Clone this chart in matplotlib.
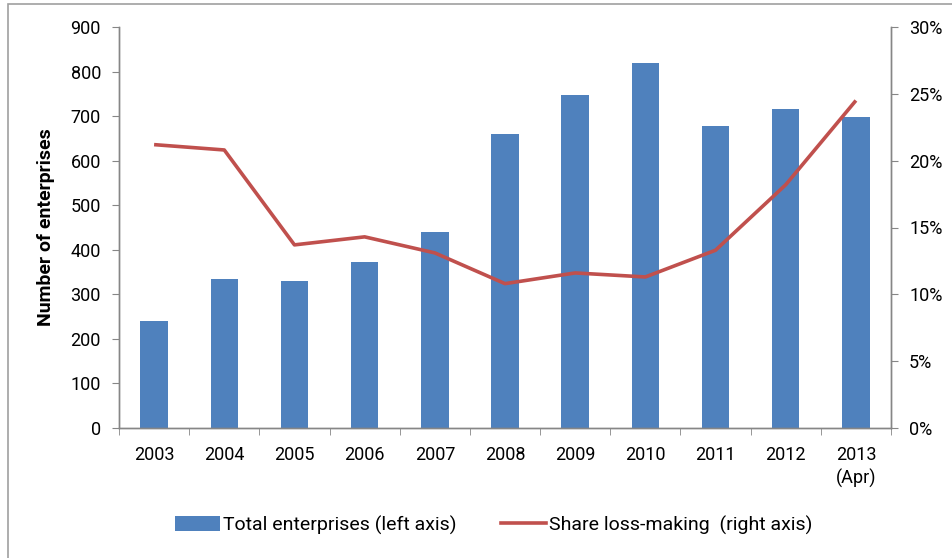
import matplotlib
matplotlib.use("Agg")
import matplotlib.pyplot as plt
from matplotlib.patches import Rectangle
from matplotlib.ticker import FuncFormatter, MultipleLocator
from matplotlib.lines import Line2D
from matplotlib.patches import Patch

plt.rcParams['font.family'] = ['Roboto', 'DejaVu Sans']

years = ["2003", "2004", "2005", "2006", "2007", "2008", "2009", "2010", "2011", "2012", "2013\n(Apr)"]
total_enterprises = [240, 334, 330, 373, 440, 660, 747, 820, 678, 716, 697]
share_loss_making = [21.2, 20.8, 13.7, 14.3, 13.1, 10.8, 11.6, 11.3, 13.3, 18.2, 24.5]

bar_color = "#4F81BD"
line_color = "#C0504D"
grey = "#868686"
fs = 13

fig = plt.figure(figsize=(9.53, 5.58), dpi=100)
ax = fig.add_axes([119/953, 1-428/558, (891-119)/953, (428-27)/558])
ax2 = ax.twinx()

x = list(range(len(years)))
ax.bar(x, total_enterprises, width=0.39, color=bar_color, zorder=2)
ax2.plot(x, share_loss_making, color=line_color, lw=2.6, solid_capstyle='butt', zorder=3)

ax.set_xlim(-0.5, len(years)-0.5)
ax.set_ylim(0, 900)
ax.yaxis.set_major_locator(MultipleLocator(100))
ax2.set_ylim(0, 30)
ax2.yaxis.set_major_locator(MultipleLocator(5))
ax2.yaxis.set_major_formatter(FuncFormatter(lambda v, p: f"{v:.0f}%"))

ax.set_xticks(x)
ax.set_xticklabels(years, linespacing=1.3)
ax.set_xticks([i - 0.5 for i in range(len(years)+1)], minor=True)
ax.tick_params(axis='x', which='major', length=0, pad=13, labelsize=fs)
ax.tick_params(axis='x', which='minor', length=5, color=grey, direction='out')
ax.tick_params(axis='y', length=5, color=grey, direction='out', labelsize=fs, pad=8)
ax2.tick_params(axis='y', length=5, color=grey, direction='out', labelsize=fs, pad=8)

for a in (ax, ax2):
    a.spines['top'].set_visible(False)
    for s in ('left', 'right', 'bottom'):
        a.spines[s].set_color(grey)
        a.spines[s].set_linewidth(1.0)

ax.set_ylabel("Number of enterprises", fontsize=14, fontweight='bold')
ax.yaxis.set_label_coords(-64/772, 0.5)

handles = [Patch(facecolor=bar_color, edgecolor='none'),
           Line2D([0], [0], color=line_color, lw=2.6)]
labels = ["Total enterprises (left axis)", "Share loss-making  (right axis)"]
fig.legend(handles, labels, loc='center', bbox_to_anchor=(0.5 + 17/953, 1-525/558), ncol=2,
           frameon=False, fontsize=14, handlelength=2.3, handleheight=0.75,
           handletextpad=0.15, columnspacing=2.3)

fig.patches.append(Rectangle((8/953, -0.1), 1.2, 1.1 - 4/558, transform=fig.transFigure,
                             fill=False, edgecolor="#A0A0A0", lw=1.2, zorder=0))

fig.savefig("out.png", dpi=100)
